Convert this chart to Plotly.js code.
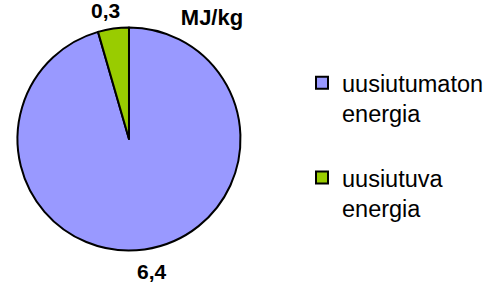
<!DOCTYPE html>
<html>
<head>
<meta charset="utf-8">
<script src="https://cdn.plot.ly/plotly-3.0.1.min.js"></script>
<style>html,body{margin:0;padding:0;background:#fff;}#chart{width:498px;height:285px;}</style>
</head>
<body>
<div id="chart"></div>
<script>
var categories = ['uusiutumaton energia', 'uusiutuva energia'];
var values = [6.4, 0.3];
var colors = ['#9999FF', '#99CC00'];
var unitTitle = 'MJ/kg';

function fmt(v) { return v.toFixed(1).replace('.', ','); }

var legendLabels = categories.map(function (c) { return c.replace(' ', '<br>') + '<br> '; });

var trace = {
  type: 'pie',
  labels: legendLabels,
  values: values,
  sort: false,
  direction: 'clockwise',
  rotation: 0,
  textinfo: 'none',
  hoverinfo: 'none',
  automargin: false,
  marker: { colors: colors, line: { color: '#000000', width: 2 } },
  domain: { x: [0.0351, 0.4829], y: [0.121, 0.9035] }
};

var labelPos = [ {x: 152/498, y: 1 - 271/285}, {x: 105.5/498, y: 1 - 10.5/285} ];
var annotations = values.map(function (v, i) {
  return {
    text: fmt(v), xref: 'paper', yref: 'paper',
    x: labelPos[i].x, y: labelPos[i].y, xanchor: 'center', yanchor: 'middle',
    showarrow: false,
    font: { family: 'Liberation Sans, Arial, sans-serif', size: 21, color: '#000', weight: 'bold' }
  };
});

var layout = {
  width: 498, height: 285,
  margin: { l: 0, r: 0, t: 0, b: 0 },
  paper_bgcolor: '#ffffff',
  showlegend: true,
  title: {
    text: unitTitle, x: 212/498, xanchor: 'center', xref: 'paper',
    y: 1 - 17.5/285, yanchor: 'middle', yref: 'paper',
    font: { family: 'Liberation Sans, Arial, sans-serif', size: 22, color: '#000', weight: 'bold' }
  },
  legend: {
    x: 302/498, y: 1 - 61/285, xanchor: 'left', yanchor: 'top',
    valign: 'top',
    font: { family: 'Liberation Sans, Arial, sans-serif', size: 23.5, color: '#000' },
    bgcolor: 'rgba(0,0,0,0)'
  },
  annotations: annotations
};

Plotly.newPlot('chart', [trace], layout, { displayModeBar: false, staticPlot: true });
</script>
</body>
</html>
